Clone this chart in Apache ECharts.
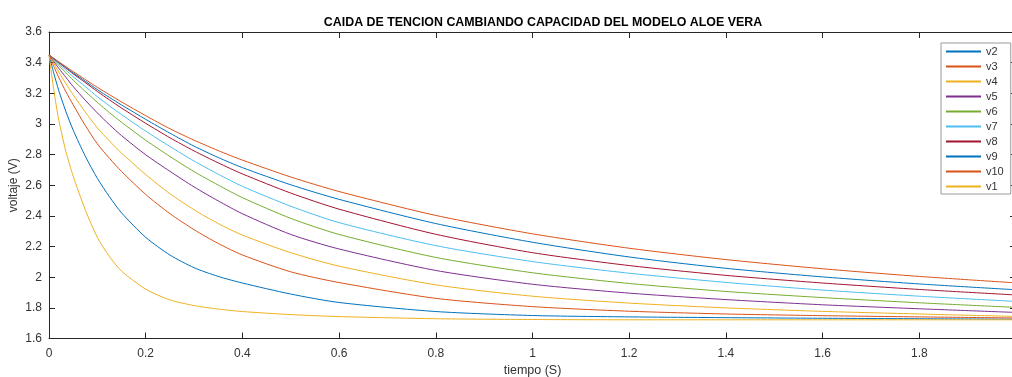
<!DOCTYPE html>
<html>
<head>
<meta charset="utf-8">
<script src="https://cdn.jsdelivr.net/npm/echarts@6/dist/echarts.min.js"></script>
<style>
html,body{margin:0;padding:0;background:#fff;}
#chart{width:1012px;height:377px;}
</style>
</head>
<body>
<div id="chart"></div>
<script>
var titleText = 'CAIDA DE TENCION CAMBIANDO CAPACIDAD DEL MODELO ALOE VERA';
var xName = 'tiempo (S)';
var yName = 'voltaje (V)';
var seriesNames = ['v2','v3','v4','v5','v6','v7','v8','v9','v10','v1'];
var time = [0, 0.01, 0.02, 0.035, 0.05, 0.075, 0.1, 0.125, 0.15, 0.2, 0.25, 0.3, 0.35, 0.4, 0.5, 0.6, 0.8, 1.0, 1.2, 1.4, 1.6, 1.8, 2.0];
var v1  = [3.45, 3.22, 3.03, 2.82, 2.66, 2.44, 2.26, 2.135, 2.04, 1.922, 1.852, 1.815, 1.792, 1.776, 1.756, 1.743, 1.729, 1.724, 1.722, 1.722, 1.722, 1.722, 1.722];
var v2  = [3.45, 3.33, 3.22, 3.08, 2.96, 2.79, 2.645, 2.525, 2.42, 2.26, 2.145, 2.062, 2.005, 1.962, 1.89, 1.835, 1.776, 1.750, 1.741, 1.736, 1.732, 1.729, 1.726];
var v3  = [3.45, 3.375, 3.305, 3.21, 3.125, 2.99, 2.87, 2.776, 2.69, 2.54, 2.415, 2.31, 2.22, 2.145, 2.035, 1.965, 1.862, 1.808, 1.778, 1.760, 1.749, 1.741, 1.734];
var v4  = [3.45, 3.395, 3.34, 3.263, 3.19, 3.078, 2.975, 2.889, 2.81, 2.67, 2.545, 2.44, 2.35, 2.275, 2.16, 2.072, 1.95, 1.876, 1.831, 1.80, 1.777, 1.76, 1.744];
var v5  = [3.45, 3.407, 3.364, 3.304, 3.244, 3.155, 3.072, 2.995, 2.924, 2.799, 2.691, 2.589, 2.498, 2.414, 2.279, 2.184, 2.044, 1.954, 1.896, 1.854, 1.820, 1.794, 1.770];
var v6  = [3.45, 3.416, 3.382, 3.334, 3.286, 3.212, 3.141, 3.074, 3.011, 2.894, 2.788, 2.689, 2.601, 2.519, 2.384, 2.279, 2.129, 2.029, 1.959, 1.907, 1.867, 1.833, 1.803];
var v7  = [3.45, 3.421, 3.392, 3.351, 3.308, 3.244, 3.178, 3.118, 3.061, 2.953, 2.853, 2.758, 2.672, 2.593, 2.463, 2.356, 2.206, 2.102, 2.026, 1.966, 1.916, 1.876, 1.842];
var v8  = [3.45, 3.425, 3.40, 3.364, 3.327, 3.270, 3.212, 3.157, 3.104, 3.004, 2.910, 2.824, 2.746, 2.674, 2.549, 2.444, 2.280, 2.160, 2.076, 2.012, 1.962, 1.920, 1.884];
var v9  = [3.45, 3.427, 3.403, 3.369, 3.334, 3.279, 3.224, 3.173, 3.124, 3.030, 2.940, 2.855, 2.781, 2.715, 2.603, 2.508, 2.350, 2.228, 2.132, 2.058, 2.002, 1.956, 1.918];
var v10 = [3.45, 3.428, 3.406, 3.374, 3.342, 3.290, 3.239, 3.191, 3.144, 3.054, 2.969, 2.894, 2.826, 2.764, 2.654, 2.559, 2.403, 2.283, 2.189, 2.115, 2.055, 2.005, 1.963];
var xTicks = [0, 0.2, 0.4, 0.6, 0.8, 1, 1.2, 1.4, 1.6, 1.8];
var yTicks = [1.6, 1.8, 2, 2.2, 2.4, 2.6, 2.8, 3, 3.2, 3.4, 3.6];
var colors = ['#0072BD','#D95319','#EDB120','#7E2F8E','#77AC30','#4DBEEE','#A2142F','#0072BD','#D95319','#EDB120'];

var valuesByName = {v1:v1, v2:v2, v3:v3, v4:v4, v5:v5, v6:v6, v7:v7, v8:v8, v9:v9, v10:v10};
function pairs(arr){ return time.map(function(t,i){ return [t, arr[i]]; }); }

var axisColor = '#262626';
var fam = 'Liberation Sans, Arial, sans-serif';
var labelFont = {color:'#333', fontSize:12, fontFamily:fam};

var chart = echarts.init(document.getElementById('chart'), null, {renderer:'canvas'});
chart.setOption({
  animation:false,
  backgroundColor:'#fff',
  color: colors,
  title:{
    text:titleText, left:538, textAlign:'center', top:12,
    textStyle:{fontSize:12.4, fontWeight:'bold', color:'#000', fontFamily:fam}
  },
  legend:{
    orient:'vertical', left:941, top:43,
    data: seriesNames,
    itemWidth:35, itemHeight:10, itemGap:4,
    padding:[3,7,2,4],
    borderColor:'#9a9a9a', borderWidth:1, backgroundColor:'#fff',
    itemStyle:{opacity:0},
    textStyle:{fontSize:11, color:'#333', fontFamily:fam}
  },
  grid:{left:49, top:32, width:967, height:306.5, containLabel:false, outerBoundsMode:'none'},
  xAxis:[{
    type:'value', min:0, max:2, interval:0.2,
    name:xName, nameLocation:'middle', nameGap:26, nameMoveOverlap:false,
    nameTextStyle:{color:'#333', fontSize:12.5, fontFamily:fam},
    axisLine:{show:true, onZero:false, lineStyle:{color:axisColor, width:1}},
    axisTick:{show:true, inside:true, length:6, lineStyle:{color:axisColor}},
    axisLabel:Object.assign({margin:9, showMaxLabel:false, formatter:function(v){ var r = Math.round(v*10)/10; return xTicks.indexOf(r) >= 0 ? String(r) : ''; }}, labelFont),
    splitLine:{show:false}
  },{
    type:'value', min:0, max:2, interval:0.2, position:'top',
    axisLine:{show:true, onZero:false, lineStyle:{color:axisColor, width:1}},
    axisTick:{show:true, inside:true, length:6, lineStyle:{color:axisColor}},
    axisLabel:{show:false}, splitLine:{show:false}
  }],
  yAxis:[{
    type:'value', min:1.6, max:3.6, interval:0.2,
    name:yName, nameLocation:'middle', nameGap:29, nameMoveOverlap:false,
    nameTextStyle:labelFont,
    axisLine:{show:true, onZero:false, lineStyle:{color:axisColor, width:1}},
    axisTick:{show:true, inside:true, length:6, lineStyle:{color:axisColor}},
    axisLabel:Object.assign({margin:7, formatter:function(v){ var r = Math.round(v*10)/10; return yTicks.indexOf(r) >= 0 ? String(r) : ''; }}, labelFont),
    splitLine:{show:false}
  },{
    type:'value', min:1.6, max:3.6, interval:0.2, position:'right',
    axisLine:{show:true, onZero:false, lineStyle:{color:axisColor, width:1}},
    axisTick:{show:true, inside:true, length:6, lineStyle:{color:axisColor}},
    axisLabel:{show:false}, splitLine:{show:false}
  }],
  series: seriesNames.map(function(n, i){
    return {
      name:n, type:'line', data:pairs(valuesByName[n]),
      xAxisIndex:0, yAxisIndex:0,
      smooth:0.25, symbol:'none', showSymbol:false,
      lineStyle:{width:1, color:colors[i]}, itemStyle:{color:colors[i]},
      emphasis:{disabled:true}
    };
  })
});
</script>
</body>
</html>
